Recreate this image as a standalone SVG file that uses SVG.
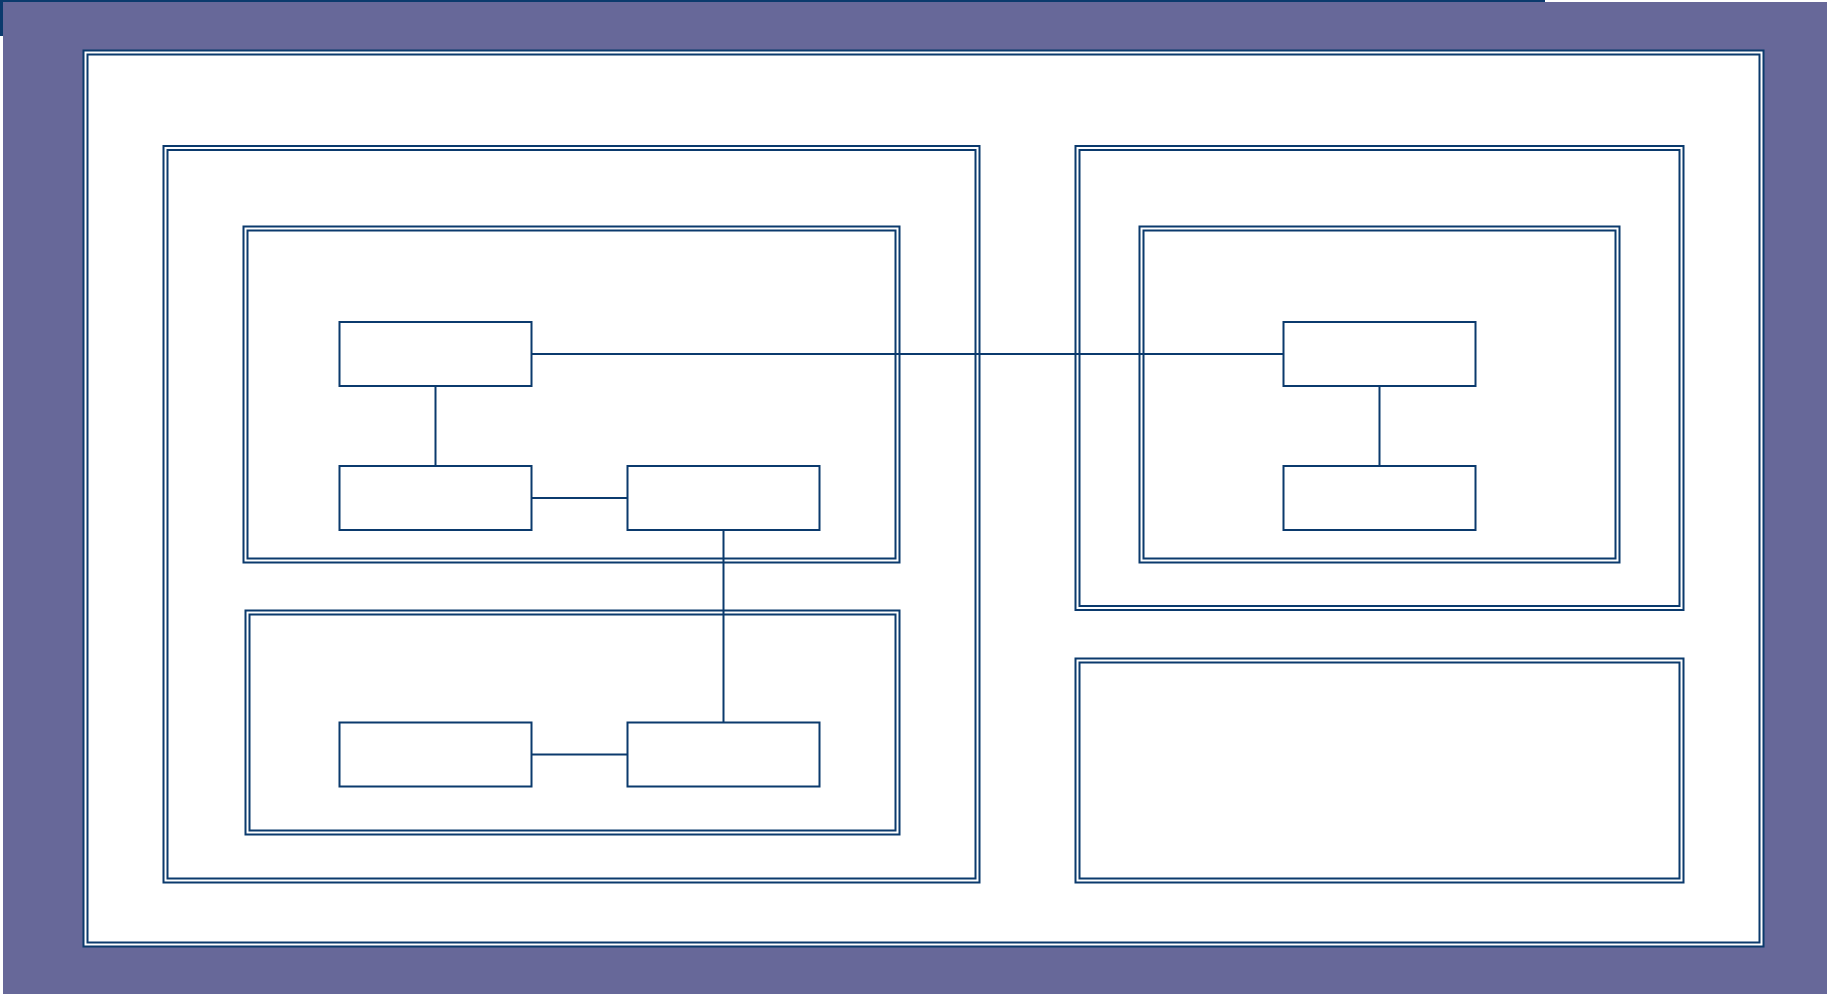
<svg xmlns="http://www.w3.org/2000/svg" width="1827" height="994" viewBox="0 0 1827 994">
<style>
.o{fill:#ffffff;stroke:#0b3a6d;stroke-width:2}
.i{fill:none;stroke:#0b3a6d;stroke-width:2}
.n{fill:#ffffff;stroke:#0b3a6d;stroke-width:2}
.c{fill:none;stroke:#0b3a6d;stroke-width:2}
</style>
<rect x="0" y="0" width="1545" height="36" fill="#0b3a6d"/>
<rect x="3" y="2" width="1824" height="992" fill="#676899"/>
<g id="main">
<rect class="o" x="83.5" y="50.5" width="1680" height="896"/>
<rect class="i" x="87.5" y="54.5" width="1672" height="888"/>
</g>
<g id="left-group">
<rect class="o" x="163.5" y="146" width="816" height="736.5"/>
<rect class="i" x="167.5" y="150" width="808" height="728.5"/>
</g>
<g id="top-left-group">
<rect class="o" x="243.5" y="226.5" width="656" height="336"/>
<rect class="i" x="247.5" y="230.5" width="648" height="328"/>
</g>
<g id="bottom-left-group">
<rect class="o" x="245.5" y="610.5" width="654" height="224"/>
<rect class="i" x="249.5" y="614.5" width="646" height="216"/>
</g>
<g id="right-top-group">
<rect class="o" x="1075.5" y="146" width="608" height="464"/>
<rect class="i" x="1079.5" y="150" width="600" height="456"/>
</g>
<g id="right-inner-group">
<rect class="o" x="1139.5" y="226.5" width="480" height="336"/>
<rect class="i" x="1143.5" y="230.5" width="472" height="328"/>
</g>
<g id="bottom-right-group">
<rect class="o" x="1075.5" y="658.5" width="608" height="224"/>
<rect class="i" x="1079.5" y="662.5" width="600" height="216"/>
</g>
<g id="connectors">
<line class="c" x1="531.5" y1="354" x2="1283.5" y2="354"/>
<line class="c" x1="435.5" y1="386" x2="435.5" y2="466"/>
<line class="c" x1="531.5" y1="498" x2="627.5" y2="498"/>
<line class="c" x1="723.5" y1="530" x2="723.5" y2="722.5"/>
<line class="c" x1="531.5" y1="754.5" x2="627.5" y2="754.5"/>
<line class="c" x1="1379.5" y1="386" x2="1379.5" y2="466"/>
</g>
<g id="node-a"><rect class="n" x="339.5" y="322" width="192" height="64"/></g>
<g id="node-b"><rect class="n" x="339.5" y="466" width="192" height="64"/></g>
<g id="node-c"><rect class="n" x="627.5" y="466" width="192" height="64"/></g>
<g id="node-d"><rect class="n" x="339.5" y="722.5" width="192" height="64"/></g>
<g id="node-e"><rect class="n" x="627.5" y="722.5" width="192" height="64"/></g>
<g id="node-f"><rect class="n" x="1283.5" y="322" width="192" height="64"/></g>
<g id="node-g"><rect class="n" x="1283.5" y="466" width="192" height="64"/></g>
</svg>
